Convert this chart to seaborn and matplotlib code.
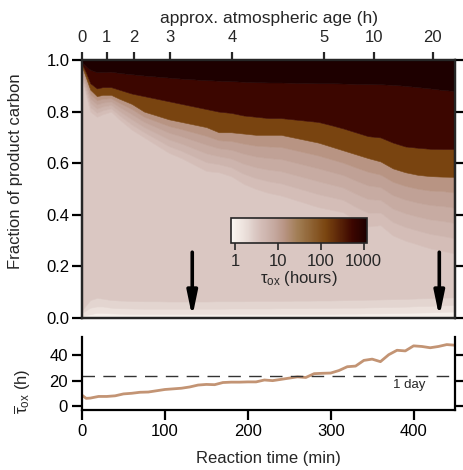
import numpy as np
import matplotlib
matplotlib.use("Agg")
import matplotlib.pyplot as plt
import seaborn as sns
import pandas as pd
from matplotlib.colors import LinearSegmentedColormap, LogNorm
from matplotlib.cm import ScalarMappable

# ---------------- data ----------------
time_min = [0, 5, 10, 18, 25, 35, 45, 60, 75, 90, 105, 120, 135, 150, 165, 180, 195,
            210, 225, 240, 255, 270, 285, 300, 315, 330, 345, 360, 375, 390, 405, 420, 435, 450]

# cumulative tops of each tau_ox layer (fraction of product carbon)
top_tau1 = [0.008, 0.012, 0.015, 0.020, 0.020, 0.018, 0.017, 0.016, 0.016, 0.016, 0.016, 0.016, 0.016, 0.016, 0.016, 0.016, 0.016,
            0.016, 0.016, 0.016, 0.016, 0.016, 0.016, 0.016, 0.017, 0.017, 0.018, 0.018, 0.019, 0.020, 0.021, 0.022, 0.024, 0.025]
top_tau2 = [0.020, 0.030, 0.040, 0.045, 0.045, 0.040, 0.038, 0.037, 0.036, 0.036, 0.036, 0.036, 0.036, 0.036, 0.036, 0.037, 0.037,
            0.037, 0.037, 0.038, 0.038, 0.038, 0.039, 0.039, 0.040, 0.040, 0.041, 0.042, 0.043, 0.044, 0.046, 0.047, 0.049, 0.050]
top_tau3 = [0.030, 0.050, 0.070, 0.078, 0.075, 0.070, 0.068, 0.066, 0.065, 0.065, 0.064, 0.064, 0.064, 0.064, 0.065, 0.065, 0.065,
            0.066, 0.066, 0.066, 0.067, 0.067, 0.068, 0.068, 0.069, 0.070, 0.071, 0.072, 0.073, 0.074, 0.076, 0.077, 0.079, 0.080]
top_tau4 = [0.926, 0.860, 0.800, 0.780, 0.790, 0.800, 0.770, 0.730, 0.700, 0.670, 0.640, 0.620, 0.595, 0.570, 0.565, 0.550, 0.520,
            0.500, 0.485, 0.475, 0.460, 0.445, 0.430, 0.420, 0.410, 0.380, 0.355, 0.360, 0.320, 0.300, 0.285, 0.270, 0.260, 0.250]
top_tau5 = [0.936, 0.874, 0.817, 0.796, 0.805, 0.813, 0.786, 0.750, 0.720, 0.693, 0.666, 0.648, 0.626, 0.604, 0.596, 0.584, 0.559,
            0.542, 0.530, 0.522, 0.508, 0.494, 0.480, 0.469, 0.458, 0.431, 0.408, 0.409, 0.372, 0.353, 0.339, 0.326, 0.318, 0.309]
top_tau6 = [0.946, 0.888, 0.834, 0.812, 0.820, 0.826, 0.802, 0.770, 0.740, 0.716, 0.692, 0.676, 0.657, 0.638, 0.627, 0.618, 0.598,
            0.584, 0.575, 0.569, 0.556, 0.543, 0.530, 0.518, 0.506, 0.482, 0.461, 0.458, 0.424, 0.406, 0.393, 0.382, 0.376, 0.368]
top_tau7 = [0.955, 0.902, 0.851, 0.828, 0.835, 0.839, 0.818, 0.790, 0.760, 0.739, 0.718, 0.704, 0.688, 0.672, 0.658, 0.652, 0.637,
            0.626, 0.620, 0.616, 0.604, 0.592, 0.580, 0.567, 0.554, 0.533, 0.514, 0.507, 0.476, 0.459, 0.447, 0.438, 0.434, 0.427]
top_tau8 = [0.965, 0.916, 0.868, 0.844, 0.850, 0.852, 0.834, 0.810, 0.780, 0.762, 0.744, 0.732, 0.719, 0.706, 0.689, 0.686, 0.676,
            0.668, 0.665, 0.663, 0.652, 0.641, 0.630, 0.616, 0.602, 0.584, 0.567, 0.556, 0.528, 0.512, 0.501, 0.494, 0.492, 0.486]
top_tau9 = [0.975, 0.930, 0.885, 0.860, 0.865, 0.865, 0.850, 0.830, 0.800, 0.785, 0.770, 0.760, 0.750, 0.740, 0.720, 0.720, 0.715,
            0.710, 0.710, 0.710, 0.700, 0.690, 0.680, 0.665, 0.650, 0.635, 0.620, 0.607, 0.580, 0.565, 0.555, 0.550, 0.548, 0.547]
top_tau10 = [0.985, 0.950, 0.910, 0.890, 0.895, 0.895, 0.885, 0.870, 0.860, 0.850, 0.840, 0.830, 0.820, 0.810, 0.800, 0.795, 0.785,
             0.780, 0.775, 0.775, 0.770, 0.765, 0.760, 0.748, 0.735, 0.720, 0.705, 0.700, 0.680, 0.665, 0.660, 0.656, 0.655, 0.655]
top_tau11 = [0.990, 0.975, 0.962, 0.953, 0.954, 0.955, 0.950, 0.945, 0.940, 0.936, 0.932, 0.928, 0.925, 0.922, 0.920, 0.918, 0.916,
             0.914, 0.913, 0.913, 0.912, 0.911, 0.910, 0.910, 0.909, 0.908, 0.907, 0.906, 0.904, 0.900, 0.895, 0.890, 0.884, 0.880]
top_tau12 = [1.0] * len(time_min)

layer_tau_h = [1.0, 1.6, 2.2, 3.0, 4.0, 5.5, 7.5, 10, 14, 130, 550, 1200]

# mean oxidation lifetime vs time
line_time_min = [0, 5, 10, 20, 30, 40, 50, 60, 70, 80, 90, 100, 110, 120, 130, 140, 150, 160, 170, 180, 190, 200,
                 210, 220, 230, 240, 250, 260, 270, 280, 290, 300, 310, 320, 330, 340, 350, 360, 370, 380, 390,
                 400, 410, 420, 430, 440, 450]
tau_mean_h = [8.5, 6.0, 6.2, 7.5, 7.5, 8.0, 9.5, 10.0, 10.8, 11.0, 12.0, 13.0, 13.5, 14.0, 15.0, 16.5, 17.0, 16.8,
              18.5, 18.8, 18.8, 19.0, 19.0, 20.5, 20.0, 21.0, 22.0, 23.0, 22.5, 25.5, 25.8, 26.0, 28.0, 31.0, 31.5,
              36.0, 37.0, 35.0, 40.5, 44.0, 43.5, 47.5, 47.0, 46.0, 47.0, 48.5, 48.0]

age_tick_min = [0, 30, 63, 106, 181, 292, 352, 423]
age_tick_labels = ["0", "1", "2", "3", "4", "5", "10", "20"]
arrow_time_min = [133, 431]
one_day_h = 24

# ---------------- style ----------------
sns.set_theme(style="ticks")
plt.rcParams["font.family"] = ["Liberation Sans", "DejaVu Sans"]
plt.rcParams["mathtext.fontset"] = "custom"
plt.rcParams["mathtext.rm"] = "Liberation Sans"
plt.rcParams["mathtext.it"] = "Liberation Sans"
plt.rcParams["mathtext.bf"] = "Liberation Sans:bold"
FS = 12

vmin, vmax = 0.8, 1200
stops = [(0.8, "#faf7f4"), (1.0, "#f5efea"), (1.6, "#ece1dc"), (2.2, "#e3d5d0"), (3.0, "#dac7c2"),
         (4.0, "#d4bdb7"), (5.5, "#cdb4ad"), (7.5, "#c7aba2"), (10, "#c0a196"), (14, "#b89483"),
         (30, "#a07c52"), (130, "#7a4510"), (550, "#3c0600"), (1200, "#1e0000")]
pos = [np.log(s[0] / vmin) / np.log(vmax / vmin) for s in stops]
cmap = LinearSegmentedColormap.from_list("tau", list(zip(pos, [s[1] for s in stops])))
norm = LogNorm(vmin=vmin, vmax=vmax)

fig = plt.figure(figsize=(4.64, 4.70), dpi=100)
ax = fig.add_axes([0.1767, 0.3234, 0.804, 0.5489])
axb = fig.add_axes([0.1767, 0.1277, 0.804, 0.1553])

# ---------------- main stacked panel ----------------
tops = [top_tau1, top_tau2, top_tau3, top_tau4, top_tau5, top_tau6, top_tau7, top_tau8,
        top_tau9, top_tau10, top_tau11, top_tau12]
lower = np.zeros(len(time_min))
for tau, top in zip(layer_tau_h, tops):
    c = cmap(norm(tau))
    ax.fill_between(time_min, lower, top, facecolor=c, edgecolor=c, linewidth=0.4)
    lower = np.array(top)

ax.set_xlim(0, 450)
ax.set_ylim(0, 1.0)
ax.set_yticks([0, 0.2, 0.4, 0.6, 0.8, 1.0])
ax.set_yticklabels(["0.0", "0.2", "0.4", "0.6", "0.8", "1.0"])
ax.set_xticks([])
ax.tick_params(axis="y", which="both", direction="out", length=7, width=1.6,
               labelsize=FS, right=True, pad=2, colors="black")
ax.set_ylabel("Fraction of product carbon", fontsize=FS)
ax.yaxis.set_label_coords(-0.158, 0.57)
for s in ax.spines.values():
    s.set_linewidth(1.6)
    s.set_color("black")

for ta in arrow_time_min:
    ax.annotate("", xy=(ta, 0.004), xytext=(ta, 0.255),
                arrowprops=dict(arrowstyle="-|>,head_width=0.25,head_length=1.2",
                                lw=2.6, color="black", shrinkA=0, shrinkB=0))

# top axis: atmospheric age
axt = ax.twiny()
axt.set_xlim(0, 450)
axt.set_xticks(age_tick_min)
axt.set_xticklabels(age_tick_labels)
axt.tick_params(axis="x", direction="out", length=6, width=1.6, labelsize=FS, pad=5)
axt.set_xlabel("approx. atmospheric age (h)", fontsize=12.5, labelpad=5)
for s in axt.spines.values():
    s.set_linewidth(1.6)

# colorbar inset
cax = fig.add_axes([0.498, 0.483, 0.293, 0.053])
sm = ScalarMappable(norm=norm, cmap=cmap)
cb = fig.colorbar(sm, cax=cax, orientation="horizontal")
cb.set_ticks([1, 10, 100, 1000])
cb.set_ticklabels(["1", "10", "100", "1000"])
cb.outline.set_linewidth(1.2)
cax.tick_params(axis="x", which="major", direction="out", length=5, width=1.2, labelsize=FS, pad=3)
cax.tick_params(axis="x", which="minor", direction="out", length=3, width=1.0)
cax.set_xlabel(r"$\tau_{\mathrm{ox}}$ (hours)", fontsize=FS, labelpad=0)

# ---------------- bottom panel ----------------
df = pd.DataFrame({"t": line_time_min, "tau": tau_mean_h})
sns.lineplot(data=df, x="t", y="tau", ax=axb, color="#c39474", linewidth=2.0)
axb.axhline(one_day_h, color="#333333", linestyle=(0, (9, 6)), linewidth=1.0)
axb.text(395, 16.5, "1 day", fontsize=9.5, ha="center", va="center")
axb.set_xlim(0, 450)
axb.set_ylim(-3.2, 54.5)
axb.set_yticks([0, 20, 40])
axb.set_xticks([0, 100, 200, 300, 400])
axb.tick_params(axis="both", direction="out", length=7, width=1.6, labelsize=FS, pad=3, colors="black")
axb.tick_params(axis="y", right=True)
axb.spines["top"].set_visible(False)
for k in ["left", "right", "bottom"]:
    axb.spines[k].set_linewidth(1.6)
    axb.spines[k].set_color("black")
axb.set_xlabel("Reaction time (min)", fontsize=FS, labelpad=9)
axb.set_ylabel(r"$\overline{\tau}_{\mathrm{ox}}$ (h)", fontsize=FS)
axb.yaxis.set_label_coords(-0.131, 0.26)

fig.savefig("out.png", dpi=100)
